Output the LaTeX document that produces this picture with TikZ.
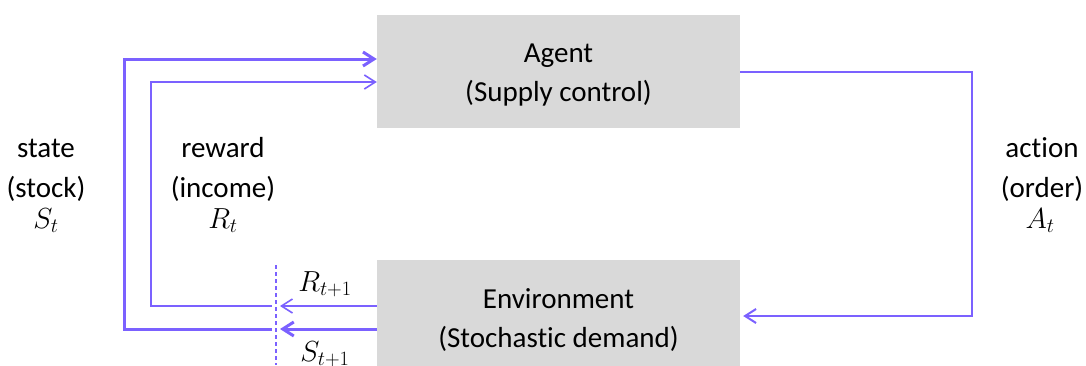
\RequirePackage{fix-cm}
\documentclass[tikz,border=0pt]{standalone}
\usepackage{fontspec}
\setmainfont{Carlito}[Ligatures=NoCommon]
\usetikzlibrary{arrows.meta}
\definecolor{flow}{RGB}{123,97,255}
\definecolor{boxgray}{RGB}{217,217,217}
\begin{document}
\begin{tikzpicture}[x=1pt,y=-1pt,
  box/.style={fill=boxgray, minimum width=363pt, minimum height=113pt, inner sep=0pt},
  boxtext/.style={align=center, inner sep=0pt, font=\fontsize{29}{39}\selectfont},
  lbl/.style={font=\fontsize{29}{35}\selectfont, anchor=base, inner sep=0pt},
  thickflow/.style={draw=flow, line width=3pt},
  thinflow/.style={draw=flow, line width=1.6pt},
  midflow/.style={draw=flow, line width=2pt},
  tip/.style={-{Straight Barb[length=11pt,width=14pt]}},
  cutline/.style={draw=flow, line width=1.2pt, dash pattern=on 4pt off 3pt}
]
\useasboundingbox (0,0) rectangle (1086,365);
\clip (0,0) rectangle (1086,365);

% the two blocks
\node[box] (agent) at (558.5,71.5) {};
\node[boxtext] (agentText) at ([yshift=-4pt]agent.center) {Agent\\(Supply control)};
\node[box] (env) at (558.5,316.5) {};
\node[boxtext] (envText) at ([yshift=-4pt]env.center) {Environment\\(Stochastic demand)};

% routing points of the loops
\coordinate (sTop) at (124,59);
\coordinate (sBot) at (124,329);
\coordinate (rTop) at (151,82);
\coordinate (rBot) at (151,306);
\coordinate (aTop) at (972,72);
\coordinate (aBot) at (972,316);
\coordinate (cutTop) at (276,265);
\coordinate (cutBot) at (276,365);

% time-step boundary
\draw[cutline] (cutTop) -- (cutBot);

% state loop
\draw[thickflow, tip] (env.west |- sBot) -- ([xshift=4pt]cutTop |- sBot);
\draw[thickflow, tip] ([xshift=-4pt]cutTop |- sBot) -- (sBot) -- (sTop) -- (agent.west |- sTop);

% reward loop
\draw[thinflow, tip] (env.west |- rBot) -- ([xshift=4pt]cutTop |- rBot);
\draw[thinflow, tip] ([xshift=-4pt]cutTop |- rBot) -- (rBot) -- (rTop) -- (agent.west |- rTop);

% action
\draw[midflow, tip, shorten >=3pt] (agent.east |- aTop) -- (aTop) -- (aBot) -- (env.east |- aBot);

% labels
\node[lbl] (st1) at (46,157) {state};
\node[lbl] (st2) at (46,197) {(stock)};
\node[lbl] (st3) at (46,228) {$S_t$};
\node[lbl] (rw1) at (223,157) {reward};
\node[lbl] (rw2) at (223,197) {(income)};
\node[lbl] (rw3) at (223,228) {$R_t$};
\node[lbl] (ac1) at (1042,157) {action};
\node[lbl] (ac2) at (1042,197) {(order)};
\node[lbl] (ac3) at (1040,228) {$A_t$};
\node[lbl] (rn) at (325,291) {$R_{t+1}$};
\node[lbl] (sn) at (325,361) {$S_{t+1}$};
\end{tikzpicture}
\end{document}
